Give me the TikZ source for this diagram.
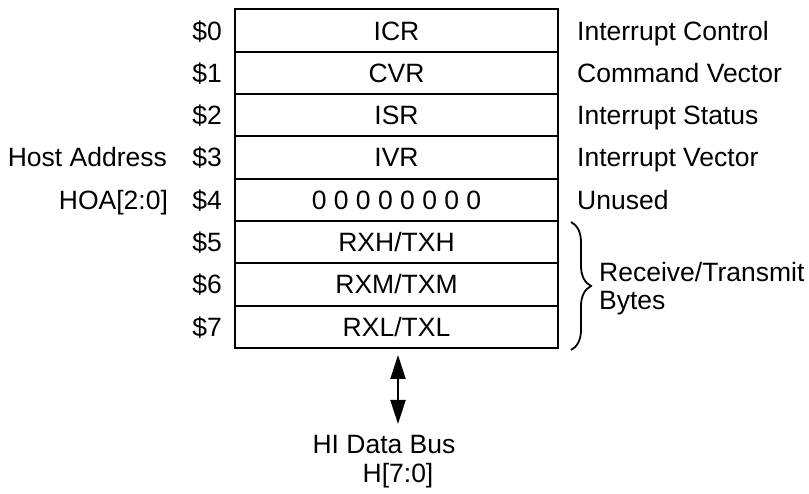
\documentclass[tikz,border=0pt]{standalone}
\usepackage{fontspec}
\setmainfont{Liberation Sans}
\usetikzlibrary{positioning, arrows.meta, decorations.pathreplacing}
\tikzset{reg/.style={draw, line width=2pt, outer sep=0pt, inner sep=0pt, minimum width=323pt, minimum height=42.3pt, text height=19pt, text depth=0pt}}
\tikzset{lbl/.style={inner sep=0pt, text height=19pt, text depth=0pt}}

\begin{document}
\begin{tikzpicture}[x=1pt, y=-1pt, font=\fontsize{26.5}{32}\selectfont] % pixel grid, y down
  \useasboundingbox (0,0) rectangle (809,494);

  \node[reg] (r0) at (396.5,30.6) {ICR};
  \node[reg, below=0pt of r0] (r1) {CVR};
  \node[reg, below=0pt of r1] (r2) {ISR};
  \node[reg, below=0pt of r2] (r3) {IVR};
  \node[reg, below=0pt of r3] (r4) {0 0 0 0 0 0 0 0};
  \node[reg, below=0pt of r4] (r5) {RXH/TXH};
  \node[reg, below=0pt of r5] (r6) {RXM/TXM};
  \node[reg, below=0pt of r6] (r7) {RXL/TXL};

  \node[lbl, left=13pt of r0] (a0) {\$0};
  \node[lbl, left=13pt of r1] (a1) {\$1};
  \node[lbl, left=13pt of r2] (a2) {\$2};
  \node[lbl, left=13pt of r3] (a3) {\$3};
  \node[lbl, left=13pt of r4] (a4) {\$4};
  \node[lbl, left=13pt of r5] (a5) {\$5};
  \node[lbl, left=13pt of r6] (a6) {\$6};
  \node[lbl, left=13pt of r7] (a7) {\$7};

  \node[lbl, left=25pt of a3] (host) {Host Address};
  \node[lbl, left=24pt of a4] (hoa) {HOA[2:0]};

  \node[lbl, right=19pt of r0] (n0) {Interrupt Control};
  \node[lbl, right=19pt of r1] (n1) {Command Vector};
  \node[lbl, right=19pt of r2] (n2) {Interrupt Status};
  \node[lbl, right=19pt of r3] (n3) {Interrupt Vector};
  \node[lbl, right=19pt of r4] (n4) {Unused};

  % brace over the three data bytes
  \coordinate (bt) at (571,222);
  \coordinate (bb) at (571,350);
  \draw[decorate, decoration={brace, amplitude=20pt}, line width=1.8pt] (bt) -- (bb);
  \node[anchor=base west, inner sep=0pt] (rt) at (599,282) {Receive/Transmit};
  \node[anchor=base west, inner sep=0pt] (by) at (599,310) {Bytes};

  % data bus
  \node[anchor=base, inner sep=0pt] (bus) at (384,453) {HI Data Bus};
  \node[anchor=base, inner sep=0pt] (hb) at (398,482) {H[7:0]};
  \coordinate (at) at (398,355);
  \coordinate (ab) at (398,424);
  \draw[{Triangle[length=24pt,width=15pt]}-{Triangle[length=24pt,width=15pt]}, line width=2pt] (at) -- (ab);
\end{tikzpicture}
\end{document}
